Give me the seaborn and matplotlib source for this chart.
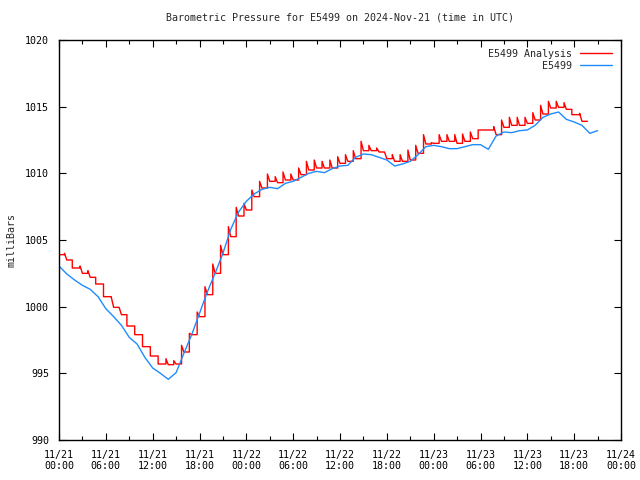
import numpy as np
import pandas as pd
import matplotlib
matplotlib.use("Agg")
import matplotlib.pyplot as plt
import matplotlib.dates as mdates
import seaborn as sns

# station reading, hourly from 2024-11-21 00:00 UTC
station_hpa = [
    1003.05, 1002.45, 1002.0, 1001.6, 1001.3, 1000.75, 999.85, 999.25, 998.6, 997.7,
    997.2, 996.2, 995.4, 995.0, 994.55, 995.05, 996.5, 997.9, 999.5, 1001.1,
    1002.5, 1004.0, 1005.8, 1007.1, 1007.9, 1008.45, 1008.8, 1008.95, 1008.85, 1009.25,
    1009.4, 1009.7, 1010.0, 1010.15, 1010.05, 1010.35, 1010.55, 1010.6, 1011.2, 1011.45,
    1011.4, 1011.2, 1011.0, 1010.55, 1010.7, 1010.9, 1011.4, 1012.0, 1012.1, 1012.0,
    1011.85, 1011.85, 1012.0, 1012.15, 1012.15, 1011.8, 1012.8, 1013.1, 1013.05, 1013.2,
    1013.25, 1013.6, 1014.2, 1014.45, 1014.6, 1014.05, 1013.85, 1013.6, 1013.0, 1013.2,
]

# analysis: value at start, then per hour a short peak followed by the settled value
analysis_start = 1003.9
analysis_peak = [
    1004.0, 1002.9, 1003.05, 1002.7, 1001.7, 1000.75, 1000.7, 999.95, 998.55, 997.9,
    997.0, 996.3, 995.7, 996.1, 995.95, 997.1, 998.0, 999.6, 1001.5, 1003.2,
    1004.6, 1006.0, 1007.45, 1007.75, 1008.75, 1009.4, 1009.95, 1009.75, 1010.1, 1009.95,
    1010.4, 1010.9, 1011.0, 1010.9, 1011.0, 1011.25, 1011.4, 1011.7, 1012.4, 1012.1,
    1011.9, 1011.6, 1011.4, 1011.4, 1011.75, 1012.1, 1012.9, 1012.3, 1012.9, 1012.9,
    1012.9, 1012.95, 1013.1, 1013.25, 1013.25, 1013.5, 1014.0, 1014.2, 1014.2, 1014.2,
    1014.55, 1015.1, 1015.4, 1015.4, 1015.3, 1014.4, 1014.5,
]
analysis_base = [
    1003.5, 1002.9, 1002.5, 1002.2, 1001.7, 1000.75, 999.95, 999.4, 998.55, 997.9,
    997.0, 996.3, 995.7, 995.65, 995.7, 996.6, 997.9, 999.25, 1000.9, 1002.5,
    1003.9, 1005.25, 1006.8, 1007.25, 1008.25, 1008.9, 1009.4, 1009.3, 1009.5, 1009.5,
    1009.9, 1010.25, 1010.4, 1010.4, 1010.4, 1010.75, 1010.9, 1011.1, 1011.7, 1011.7,
    1011.6, 1011.1, 1010.9, 1010.9, 1011.0, 1011.5, 1012.2, 1012.25, 1012.4, 1012.4,
    1012.25, 1012.4, 1012.6, 1013.25, 1013.25, 1012.9, 1013.45, 1013.6, 1013.6, 1013.75,
    1014.0, 1014.45, 1014.9, 1014.95, 1014.8, 1014.4, 1013.9,
]

t0 = pd.Timestamp("2024-11-21 00:00")
station = pd.DataFrame({
    "time": t0 + pd.to_timedelta(np.arange(len(station_hpa)), unit="h"),
    "hpa": station_hpa,
})

# each hour: jump straight up to the peak, slide down to the settled value, hold it
hrs = np.arange(len(analysis_peak))
prev = np.concatenate([[analysis_start], analysis_base[:-1]])
a_hours = np.concatenate([[0.0], np.column_stack([hrs + 0.7, hrs + 0.7, hrs + 1.0]).ravel(),
                          [hrs[-1] + 1.7]])
a_vals = np.concatenate([[analysis_start],
                         np.column_stack([prev, analysis_peak, analysis_base]).ravel(),
                         [analysis_base[-1]]])
analysis = pd.DataFrame({"time": t0 + pd.to_timedelta(a_hours, unit="h"), "hpa": a_vals})

sns.set_style("ticks")
plt.rcParams["font.family"] = ["DejaVu Sans Mono"]
plt.rcParams["font.size"] = 7.2

fig = plt.figure(figsize=(6.4, 4.8), dpi=100)
ax = fig.add_axes([59 / 640, 40 / 480, 562 / 640, 400 / 480])

sns.lineplot(data=analysis, x="time", y="hpa", ax=ax, color="#ff0000", lw=1.0,
             estimator=None, sort=False, label="E5499 Analysis")
sns.lineplot(data=station, x="time", y="hpa", ax=ax, color="#1e8cff", lw=1.0,
             estimator=None, sort=False, label="E5499")

ax.set_xlim(t0, t0 + pd.Timedelta(hours=72))
ax.set_ylim(990, 1020)
ax.set_yticks(range(990, 1021, 5))
ax.xaxis.set_major_locator(mdates.HourLocator(byhour=[0, 6, 12, 18]))
ax.xaxis.set_minor_locator(mdates.HourLocator(byhour=[3, 9, 15, 21]))
ax.xaxis.set_major_formatter(mdates.DateFormatter("%m/%d\n%H:%M"))
ax.tick_params(which="both", direction="in", top=True, right=True, colors="black",
               labelsize=7.2, width=0.8)
ax.tick_params(which="major", length=5, pad=7)
ax.tick_params(which="minor", length=3)
for s in ax.spines.values():
    s.set_color("black")
    s.set_linewidth(1.0)

ax.set_xlabel("")
ax.set_ylabel("milliBars", fontsize=7.2, labelpad=6)
ax.set_title("Barometric Pressure for E5499 on 2024-Nov-21 (time in UTC)", fontsize=7.2, pad=14)
ax.legend(loc="upper right", frameon=False, markerfirst=False, handlelength=3.2,
          handletextpad=0.8, borderaxespad=0.5, labelspacing=0.2, fontsize=7.2)

fig.savefig("out.png", dpi=100)
